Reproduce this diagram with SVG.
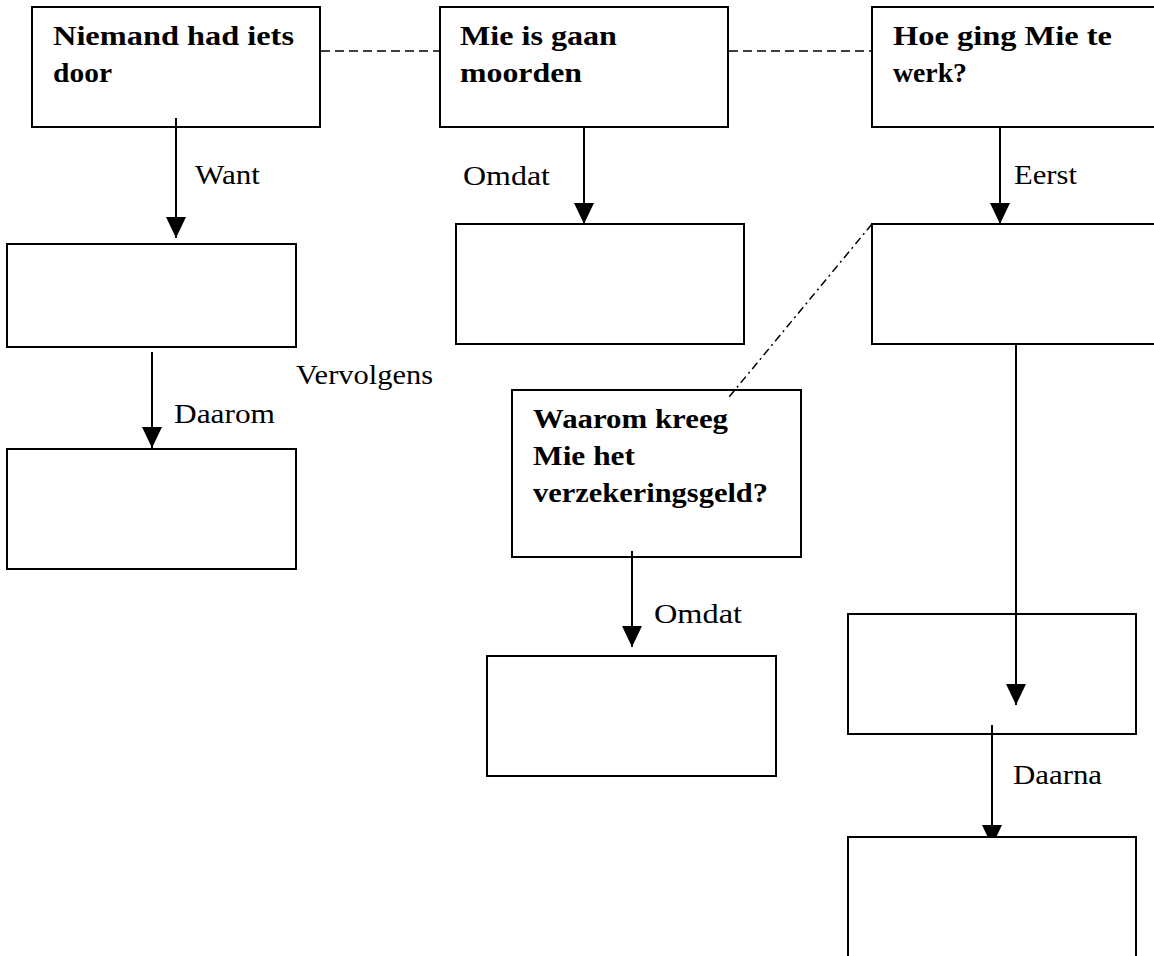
<svg xmlns="http://www.w3.org/2000/svg" width="1154" height="956" viewBox="0 0 1154 956">
<style>
.box{fill:none;stroke:#000;stroke-width:2}
.boxw{fill:#fff;stroke:#000;stroke-width:2}
.t{font-family:"Liberation Serif","Times New Roman",serif;font-size:27.5px;font-weight:bold;fill:#000}
.l{font-family:"Liberation Serif","Times New Roman",serif;font-size:27.5px;fill:#000}
.arr{stroke:#000;stroke-width:2;fill:none;marker-end:url(#ah)}
.dash{stroke:#000;stroke-width:1.6;fill:none;stroke-dasharray:9 5}
.dashdot{stroke:#000;stroke-width:1.5;fill:none;stroke-dasharray:8 4 2 4}
</style>
<defs>
<marker id="ah" markerUnits="userSpaceOnUse" markerWidth="22" markerHeight="22" refX="21" refY="10" orient="auto" viewBox="0 0 22 22">
<path d="M0,0 L21,10 L0,20 z" fill="#000"/>
</marker>
</defs>
<rect width="1154" height="956" fill="#fff"/>
<g id="connectors">
<line class="dash" x1="321" y1="51" x2="440" y2="51"/>
<line class="dash" x1="729" y1="51" x2="872" y2="51"/>
<line class="dashdot" x1="872" y1="224" x2="729" y2="397"/>
<line class="arr" x1="176" y1="118" x2="176" y2="238"/>
<line class="arr" x1="584" y1="127" x2="584" y2="224"/>
<line class="arr" x1="1000" y1="127" x2="1000" y2="224"/>
<line class="arr" x1="152" y1="352" x2="152" y2="448"/>
<line class="arr" x1="632" y1="551" x2="632" y2="647"/>
<line class="arr" x1="1016" y1="344" x2="1016" y2="705"/>
<line class="arr" x1="992" y1="725" x2="992" y2="846"/>
<text class="l" x="195" y="184" textLength="65" lengthAdjust="spacingAndGlyphs">Want</text>
<text class="l" x="463" y="185" textLength="87" lengthAdjust="spacingAndGlyphs">Omdat</text>
<text class="l" x="1014" y="184" textLength="63" lengthAdjust="spacingAndGlyphs">Eerst</text>
<text class="l" x="296" y="384" textLength="137" lengthAdjust="spacingAndGlyphs">Vervolgens</text>
<text class="l" x="174" y="423" textLength="101" lengthAdjust="spacingAndGlyphs">Daarom</text>
<text class="l" x="654" y="623" textLength="88" lengthAdjust="spacingAndGlyphs">Omdat</text>
<text class="l" x="1013" y="784" textLength="89" lengthAdjust="spacingAndGlyphs">Daarna</text>
</g>
<g id="n-niemand">
<rect class="box" x="32" y="7" width="288" height="120"/>
<text class="t" x="53" y="45" textLength="241" lengthAdjust="spacingAndGlyphs">Niemand had iets</text>
<text class="t" x="53" y="82" textLength="59" lengthAdjust="spacingAndGlyphs">door</text>
</g>
<g id="n-mie">
<rect class="box" x="440" y="7" width="288" height="120"/>
<text class="t" x="460" y="45" textLength="157" lengthAdjust="spacingAndGlyphs">Mie is gaan</text>
<text class="t" x="460" y="82" textLength="122" lengthAdjust="spacingAndGlyphs">moorden</text>
</g>
<g id="n-hoe">
<rect class="box" x="872" y="7" width="300" height="120"/>
<text class="t" x="893" y="45" textLength="219" lengthAdjust="spacingAndGlyphs">Hoe ging Mie te</text>
<text class="t" x="893" y="82" textLength="74" lengthAdjust="spacingAndGlyphs">werk?</text>
</g>
<g id="n-want">
<rect class="box" x="7" y="244" width="289" height="103"/>
</g>
<g id="n-daarom">
<rect class="box" x="7" y="449" width="289" height="120"/>
</g>
<g id="n-omdat1">
<rect class="box" x="456" y="224" width="288" height="120"/>
</g>
<g id="n-eerst">
<rect class="box" x="872" y="224" width="300" height="120"/>
</g>
<g id="n-waarom">
<rect class="box" x="512" y="390" width="289" height="167"/>
<text class="t" x="533" y="428" textLength="195" lengthAdjust="spacingAndGlyphs">Waarom kreeg</text>
<text class="t" x="533" y="465" textLength="102" lengthAdjust="spacingAndGlyphs">Mie het</text>
<text class="t" x="533" y="502" textLength="235" lengthAdjust="spacingAndGlyphs">verzekeringsgeld?</text>
</g>
<g id="n-omdat2">
<rect class="box" x="487" y="656" width="289" height="120"/>
</g>
<g id="n-vervolgens">
<rect class="box" x="848" y="614" width="288" height="120"/>
</g>
<g id="n-daarna">
<rect class="boxw" x="848" y="837" width="288" height="130"/>
</g>
</svg>
